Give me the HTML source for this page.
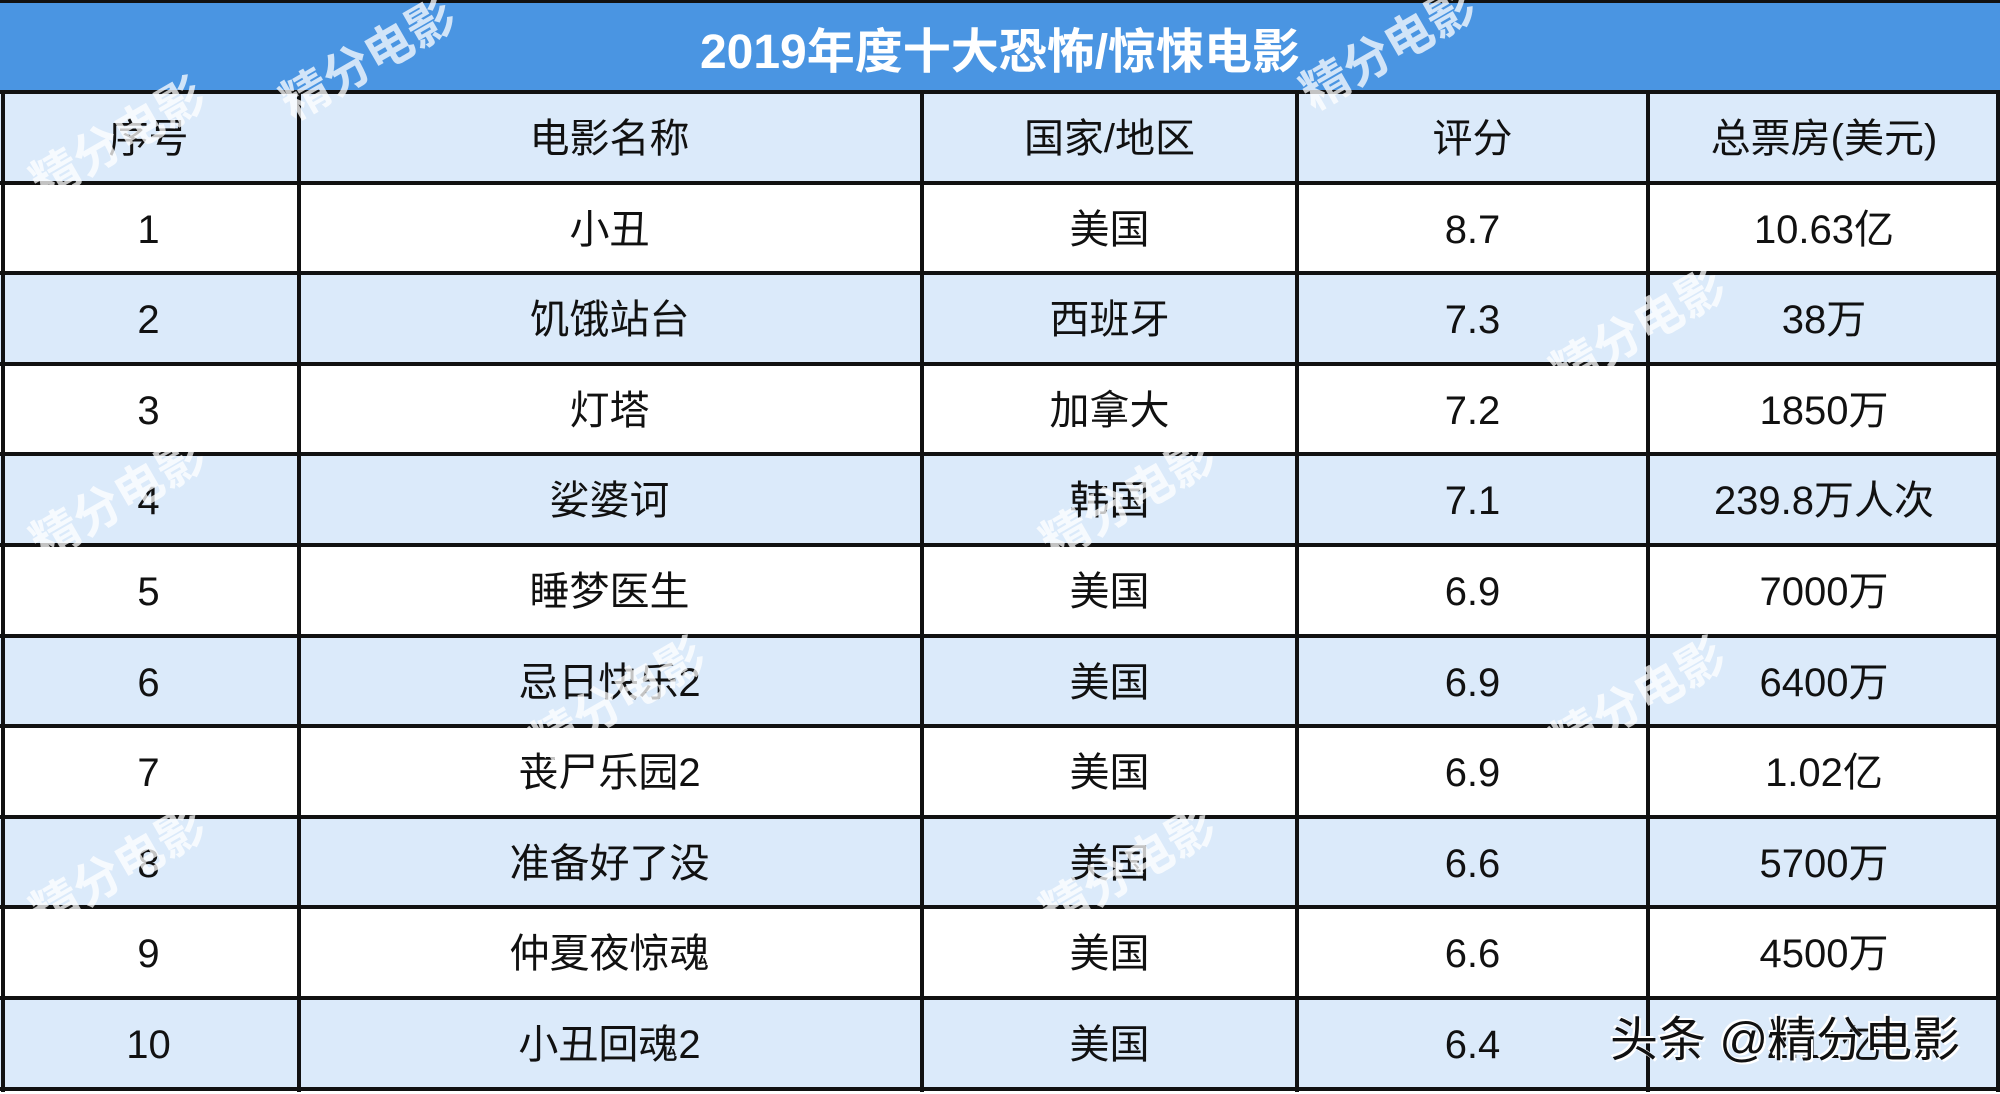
<!DOCTYPE html>
<html><head><meta charset="utf-8"><style>
body{margin:0;width:2000px;height:1094px;background:#fff;overflow:hidden;position:relative;font-family:"Liberation Sans","Noto Sans CJK SC",sans-serif}
.title{position:absolute;left:0;top:0;width:2000px;height:92px;background:#4a95e2;color:#fff;font-size:48px;font-weight:bold;text-align:center;line-height:100px;border-top:3px solid #111;box-sizing:border-box}
.row{position:absolute;left:0;width:2000px;height:91px}
.row.b{background:#dbeafa}
.c{position:absolute;top:0;height:91px;line-height:94px;text-align:center;font-size:40px;color:#111}
.h{position:absolute;left:0;width:2000px;height:4px;background:#111}
.v{position:absolute;top:90px;width:4px;height:1002px;background:#111}
.wm{position:absolute;color:rgba(255,255,255,.75);font-size:48px;font-weight:bold;transform:rotate(-30deg);white-space:nowrap}
.tt{position:absolute;left:1610px;top:1000px;font-size:48px;color:#111;text-shadow:2px 2px 0 #fff,-2px -2px 0 #fff}
</style></head><body>
<div class="title">2019年度十大恐怖/惊悚电影</div>
<div id="t"></div>
<script>
var d=[["序号","电影名称","国家/地区","评分","总票房(美元)"],["1","小丑","美国","8.7","10.63亿"],["2","饥饿站台","西班牙","7.3","38万"],["3","灯塔","加拿大","7.2","1850万"],["4","娑婆诃","韩国","7.1","239.8万人次"],["5","睡梦医生","美国","6.9","7000万"],["6","忌日快乐2","美国","6.9","6400万"],["7","丧尸乐园2","美国","6.9","1.02亿"],["8","准备好了没","美国","6.6","5700万"],["9","仲夏夜惊魂","美国","6.6","4500万"],["10","小丑回魂2","美国","6.4","2.11亿"]];
var cx=[0,297,922,1297,1648,2000],h="";
for(var i=0;i<11;i++){var y=92+i*90.6;h+='<div class="row'+(i%2==0?' b':'')+'" style="top:'+y+'px">';
for(var j=0;j<5;j++)h+='<div class="c" style="left:'+cx[j]+'px;width:'+(cx[j+1]-cx[j])+'px">'+d[i][j]+'</div>';h+='</div>';}
for(var i=0;i<12;i++)h+='<div class="h" style="top:'+(90+i*90.6)+'px"></div>';
[1,297,920,1295,1646,1996].forEach(function(x){h+='<div class="v" style="left:'+x+'px"></div>'});
document.getElementById('t').innerHTML=h;
</script>
<div class="wm" style="left:270px;top:20px">精分电影</div>
<div class="wm" style="left:20px;top:100px">精分电影</div>
<div class="wm" style="left:1290px;top:10px">精分电影</div>
<div class="wm" style="left:1540px;top:290px">精分电影</div>
<div class="wm" style="left:20px;top:460px">精分电影</div>
<div class="wm" style="left:1030px;top:460px">精分电影</div>
<div class="wm" style="left:520px;top:660px">精分电影</div>
<div class="wm" style="left:1540px;top:660px">精分电影</div>
<div class="wm" style="left:20px;top:830px">精分电影</div>
<div class="wm" style="left:1030px;top:830px">精分电影</div>
<div class="tt">头条 @精分电影</div>
</body></html>
